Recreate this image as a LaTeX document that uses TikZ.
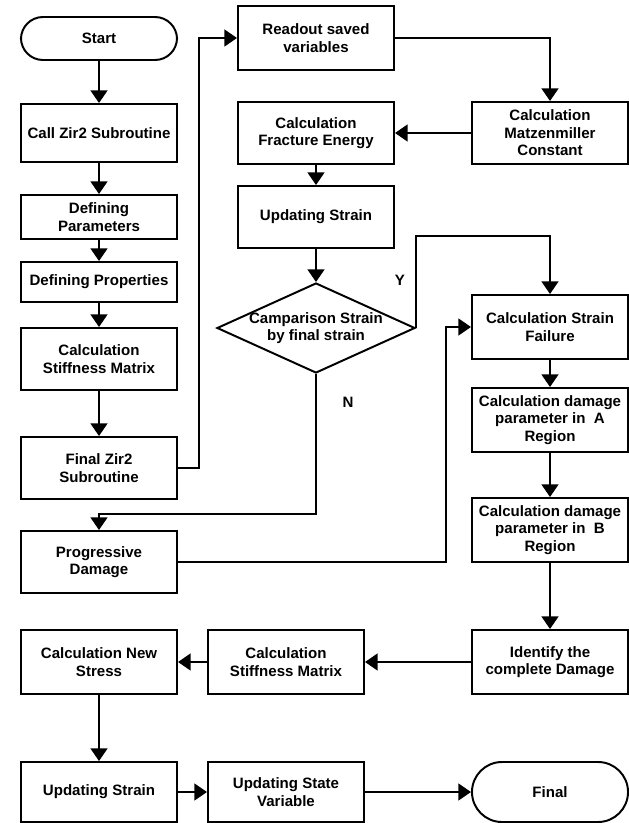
\documentclass[tikz,border=0pt]{standalone}
\usepackage{fontspec}
\setmainfont{Liberation Sans}
\usetikzlibrary{shapes.geometric,arrows.meta}

\begin{document}
\begin{tikzpicture}[x=0.025cm, y=-0.025cm,
  font=\fontsize{10.7}{12.4}\selectfont\bfseries,
  box/.style={draw, line width=1.4pt, align=center, minimum width=3.9cm, minimum height=1.55cm, inner sep=2pt},
  term/.style={box, rounded corners=0.55cm},
  decide/.style={draw, diamond, line width=1.4pt, minimum width=4.95cm, minimum height=2.25cm, inner sep=0pt},
  flow/.style={-{Triangle[length=9pt,width=12pt]}, line width=1.4pt}]
  \useasboundingbox (0,0) rectangle (629,823);

  \node[term, minimum height=1.075cm] (start) at (99,38.5) {Start};
  \node[box, minimum height=1.45cm] (call) at (99,133) {Call Zir2 Subroutine};
  \node[box, minimum height=1.1cm] (params) at (99,217) {Defining\\Parameters};
  \node[box, minimum height=1cm] (props) at (99,282) {Defining Properties};
  \node[box] (stiffa) at (99,359) {Calculation\\Stiffness Matrix};
  \node[box] (endzir) at (99,468) {Final Zir2\\Subroutine};
  \node[box] (prog) at (99,562) {Progressive\\Damage};
  \node[box, minimum height=1.6cm] (newstress) at (99,662) {Calculation New\\Stress};
  \node[box, minimum height=1.5cm] (strainb) at (99,792) {Updating Strain};

  \node[box, minimum height=1.6cm] (readout) at (316,38) {Readout saved\\variables};
  \node[box] (fracture) at (316,133) {Calculation\\Fracture Energy};
  \node[box] (straina) at (316,217) {Updating Strain};
  \node[decide, label={[align=center]center:Camparison Strain\\by final strain}] (compare) at (316,328) {};
  \node[box, minimum height=1.6cm] (stiffb) at (286,662) {Calculation\\Stiffness Matrix};
  \node[box, minimum height=1.5cm] (statevar) at (286,792) {Updating State\\Variable};

  \node[box] (matz) at (550,133) {Calculation\\Matzenmiller\\Constant};
  \node[box, minimum height=1.6cm] (failure) at (550,327) {Calculation Strain\\Failure};
  \node[box, minimum height=1.6cm] (dama) at (550,420) {Calculation damage\\parameter in~~A\\Region};
  \node[box, minimum height=1.6cm] (damb) at (550,530) {Calculation damage\\parameter in~~B\\Region};
  \node[box, minimum height=1.6cm] (identify) at (550,662) {Identify the\\complete Damage};
  \node[term, minimum height=1.5cm, rounded corners=0.75cm] (final) at (550,792) {Final};

  \node (ylab) at (400,280) {Y};
  \node (nlab) at (348,402) {N};

  \draw[flow] (start) -- (call);
  \draw[flow] (call) -- (params);
  \draw[flow] (params) -- (props);
  \draw[flow] (props) -- (stiffa);
  \draw[flow] (stiffa) -- (endzir);
  \draw[flow] (endzir.east) -- ++(21,0) |- (readout.west);
  \draw[flow] (readout.east) -| (matz.north);
  \draw[flow] (matz.west) -- (fracture.east);
  \draw[flow] (fracture) -- (straina);
  \draw[flow] (straina) -- (compare.north);
  \draw[flow] (compare.east) -- ++(0,-92) -| (failure.north);
  \draw[flow] (compare.south) -- ++(0,140) -| (prog.north);
  \draw[flow] (prog.east) -- ++(268,0) |- (failure.west);
  \draw[flow] (failure) -- (dama);
  \draw[flow] (dama) -- (damb);
  \draw[flow] (damb) -- (identify);
  \draw[flow] (identify) -- (stiffb);
  \draw[flow] (stiffb) -- (newstress);
  \draw[flow] (newstress) -- (strainb);
  \draw[flow] (strainb) -- (statevar);
  \draw[flow] (statevar) -- (final);
\end{tikzpicture}
\end{document}
